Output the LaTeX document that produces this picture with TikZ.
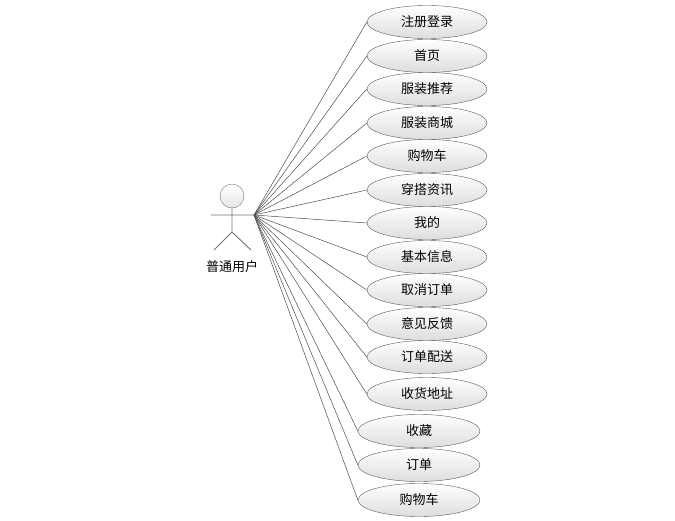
\documentclass[tikz,border=0pt]{standalone}
\usepackage{fontspec}
\newfontfamily\cjk{Noto Sans CJK SC}
\usetikzlibrary{shapes.geometric}

\begin{document}
\begin{tikzpicture}[x=1pt,y=-1pt,
  usecase/.style={ellipse,draw=black!65,top color=white,bottom color=black!13,
    minimum height=33pt,inner sep=0pt,font=\cjk\fontsize{13}{15}\selectfont},
  actorline/.style={draw=black!55,line width=0.9pt},
  link/.style={draw=black!70,line width=0.5pt}]
  \useasboundingbox (0,0) rectangle (675,520);
  % actor
  \node[circle,draw=black!55,top color=white,bottom color=black!10,
    minimum size=24pt,inner sep=0pt] (head) at (232,196) {};
  \coordinate (hand) at (254,215);
  \coordinate (lhand) at (211,215);
  \coordinate (hip) at (232,232);
  \coordinate (lfoot) at (214,250);
  \coordinate (rfoot) at (251,250);
  \draw[actorline] (head.south) -- (hip) (lhand) -- (hand) (lfoot) -- (hip) -- (rfoot);
  \node[font=\cjk\fontsize{13}{15}\selectfont] (user) at (232,267) {普通用户};
  % use cases
  \foreach \name/\x/\y/\w/\txt in {
      uc1/427/22/120/注册登录, uc2/427/56/120/首页, uc3/427/89/120/服装推荐,
      uc4/427/123/120/服装商城, uc5/427/156/120/购物车, uc6/427/190/120/穿搭资讯,
      uc7/427/223/120/我的, uc8/427/257/120/基本信息, uc9/427/290/120/取消订单,
      uc10/427/324/120/意见反馈, uc11/427/357/120/订单配送, uc12/427/394/120/收货地址,
      uc13/419/431/122/收藏, uc14/419/465/122/订单, uc15/419/500/122/购物车} {
    \node[usecase,minimum width=\w pt] (\name) at (\x,\y) {\txt};
    \draw[link] (hand) -- (\name.west);
  }
\end{tikzpicture}
\end{document}
